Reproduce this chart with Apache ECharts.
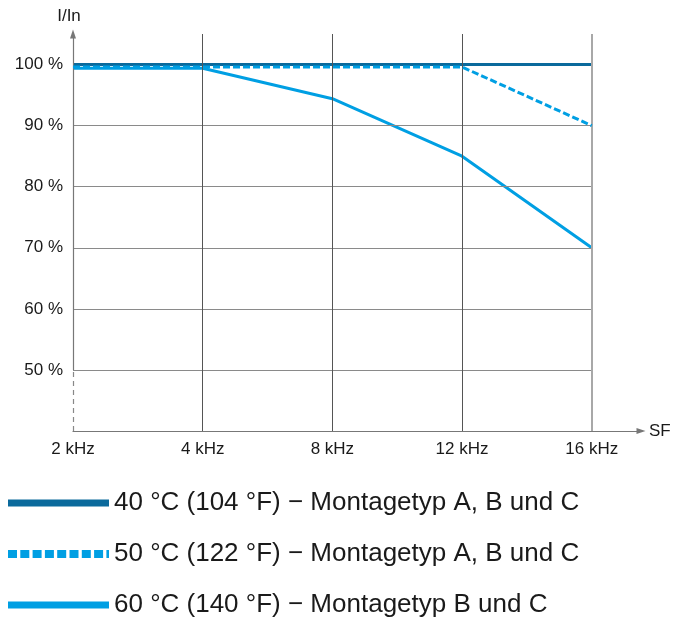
<!DOCTYPE html>
<html>
<head>
<meta charset="utf-8">
<script src="https://cdn.jsdelivr.net/npm/echarts@6/dist/echarts.min.js"></script>
<style>
  html, body { margin: 0; padding: 0; background: #fff; }
  #chart { width: 677px; height: 621px; }
</style>
</head>
<body>
<div id="chart"></div>
<script>
// Switching frequency positions (evenly spaced) and their labels
const freqLabels = ['2 kHz', '4 kHz', '8 kHz', '12 kHz', '16 kHz'];
const freqIndex = [0, 1, 2, 3, 4];

// Derating curves, current as % of nominal
const derate40 = [100, 100, 100, 100, 100];
const derate50 = [99.6, 99.6, 99.6, 99.6, 90];
const derate60 = [99.4, 99.4, 94.4, 85, 70];

const seriesNames = [
  '40 °C (104 °F) − Montagetyp A, B und C',
  '50 °C (122 °F) − Montagetyp A, B und C',
  '60 °C (140 °F) − Montagetyp B und C'
];

// Horizontal reference levels in %
const yLevels = [50, 60, 70, 80, 90, 100];
const yGridLevels = [50, 60, 70, 80, 90];

const DARK = '#0b6a9c';
const LIGHT = '#009fe3';
const FONT = 'Liberation Sans, Arial, sans-serif';

const pair = (xs, ys) => xs.map((x, i) => [x, ys[i]]);

const chart = echarts.init(document.getElementById('chart'), null, { renderer: 'canvas' });

const lineMark = (color, width, type) => ({ lineStyle: { color, width, type } });

// Grid lines and the y axis drawn in data coordinates
const gridMarks = [];
yGridLevels.forEach(v => {
  gridMarks.push([{ coord: [0, v], ...lineMark('#8a8a8a', 1, 'solid') }, { coord: [4, v] }]);
});
[1, 2, 3].forEach(x => {
  gridMarks.push([{ coord: [x, 40], ...lineMark('#555', 1, 'solid') }, { coord: [x, 105] }]);
});
gridMarks.push([{ coord: [4, 40], ...lineMark('#a8a8a8', 2, 'solid') }, { coord: [4, 105] }]);
gridMarks.push([{ coord: [0, 40], symbol: 'none', ...lineMark('#888', 1.2, [5, 4]) }, { coord: [0, 50], symbol: 'none' }]);
gridMarks.push([
  { coord: [0, 50], symbol: 'none', ...lineMark('#777', 1.2, 'solid') },
  { coord: [0, 105], symbol: 'triangle', symbolSize: [6, 9], itemStyle: { color: '#222' } }
]);

const option = {
  backgroundColor: '#fff',
  animation: false,
  textStyle: { fontFamily: FONT },
  grid: { left: 73, right: 36, top: 34, bottom: 190, containLabel: false },
  xAxis: {
    type: 'value',
    min: 0,
    max: 4.38,
    interval: 1,
    name: 'SF',
    nameLocation: 'end',
    nameGap: 8,
    nameTextStyle: { fontSize: 17, color: '#1a1a1a', fontFamily: FONT },
    axisLine: { show: true, symbol: ['none', 'triangle'], symbolSize: [6, 9], lineStyle: { color: '#777', width: 1.2 } },
    axisTick: { show: false },
    splitLine: { show: false },
    axisLabel: {
      showMaxLabel: false,
      margin: 10,
      fontSize: 17,
      color: '#1a1a1a',
      fontFamily: FONT,
      formatter: v => (Number.isInteger(v) && freqLabels[v] !== undefined ? freqLabels[v] : '')
    }
  },
  yAxis: {
    type: 'value',
    min: 40,
    max: 105,
    interval: 10,
    name: 'I/In',
    nameLocation: 'end',
    nameGap: 9,
    nameTextStyle: { fontSize: 17, color: '#1a1a1a', fontFamily: FONT, padding: [0, 8, 0, 0] },
    axisLine: { show: false },
    axisTick: { show: false },
    splitLine: { show: false },
    axisLabel: {
      showMinLabel: false,
      showMaxLabel: false,
      margin: 10,
      fontSize: 17,
      color: '#1a1a1a',
      fontFamily: FONT,
      formatter: v => (yLevels.indexOf(v) >= 0 ? v + ' %' : '')
    }
  },
  legend: {
    orient: 'vertical',
    left: 4,
    top: 488,
    height: 133,
    padding: 0,
    itemWidth: 101,
    itemHeight: 8,
    itemGap: 21,
    selectedMode: false,
    lineStyle: { width: 7 },
    // no marker dot on the line samples
    itemStyle: { color: 'rgba(0,0,0,0)', borderWidth: 0, opacity: 0 },
    textStyle: { fontSize: 26, lineHeight: 30, color: '#1a1a1a', fontFamily: FONT },
    data: [
      { name: seriesNames[0] },
      { name: seriesNames[1], lineStyle: { type: [9, 3.3], width: 8 } },
      { name: seriesNames[2] }
    ]
  },
  series: [
    {
      name: 'grid',
      type: 'line',
      data: [],
      z: 1,
      silent: true,
      markLine: {
        silent: true,
        animation: false,
        symbol: ['none', 'none'],
        label: { show: false },
        emphasis: { disabled: true },
        data: gridMarks
      }
    },
    {
      name: seriesNames[2],
      type: 'line',
      z: 3,
      symbol: 'none',
      data: pair(freqIndex, derate60),
      lineStyle: { color: LIGHT, width: 3 },
      itemStyle: { color: LIGHT }
    },
    {
      name: seriesNames[0],
      type: 'line',
      z: 4,
      symbol: 'none',
      data: pair(freqIndex, derate40),
      lineStyle: { color: DARK, width: 3 },
      itemStyle: { color: DARK }
    },
    {
      name: seriesNames[1],
      type: 'line',
      z: 5,
      symbol: 'none',
      data: pair(freqIndex, derate50),
      lineStyle: { color: LIGHT, width: 3, type: [7, 3] },
      itemStyle: { color: LIGHT }
    }
  ]
};

chart.setOption(option);
</script>
</body>
</html>
